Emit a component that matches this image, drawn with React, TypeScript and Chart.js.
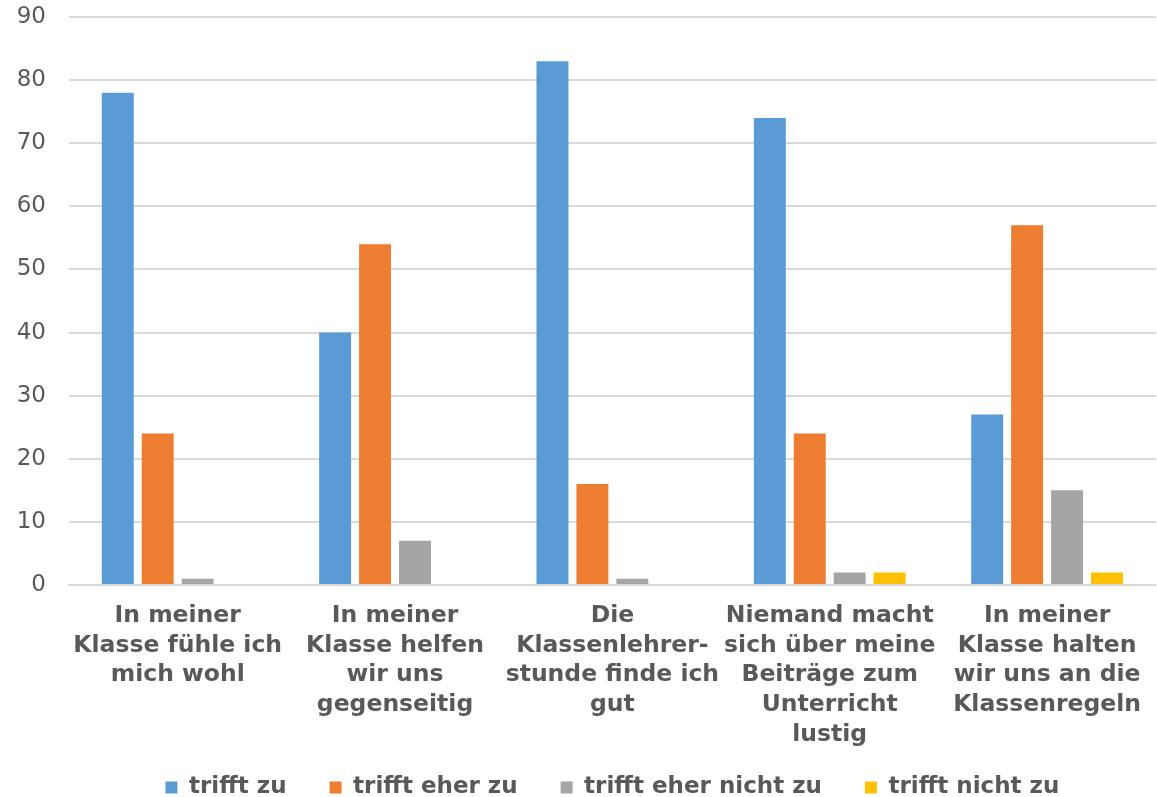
import React, { useEffect, useRef } from "react";
import { Chart, registerables } from "chart.js";

Chart.register(...registerables);

const categories: string[][] = [
  ["In meiner", "Klasse fühle ich", "mich wohl"],
  ["In meiner", "Klasse helfen", "wir uns", "gegenseitig"],
  ["Die", "Klassenlehrer-", "stunde finde ich", "gut"],
  ["Niemand macht", "sich über meine", "Beiträge zum", "Unterricht", "lustig"],
  ["In meiner", "Klasse halten", "wir uns an die", "Klassenregeln"],
];

const seriesNames = ["trifft zu", "trifft eher zu", "trifft eher nicht zu", "trifft nicht zu"];
const trifftZu = [78, 40, 83, 74, 27];
const trifftEherZu = [24, 54, 16, 24, 57];
const trifftEherNichtZu = [1, 7, 1, 2, 15];
const trifftNichtZu = [0, 0, 0, 2, 2];
const colors = ["#5b9bd5", "#ed7d31", "#a5a5a5", "#ffc000"];
const yTicks = { min: 0, max: 90, step: 10 };

const FONT = "'DejaVu Sans', Verdana, sans-serif";

// keep the multi-line category labels from being clipped at the axis box bottom
const unclipXLabels = {
  id: "unclipXLabels",
  afterLayout(chart: any) {
    const x = chart.scales.x;
    if (x) x.bottom = chart.height;
  },
};

export default function App() {
  const ref = useRef<HTMLCanvasElement | null>(null);
  useEffect(() => {
    if (!ref.current) return;
    const values = [trifftZu, trifftEherZu, trifftEherNichtZu, trifftNichtZu];
    const chart = new Chart(ref.current, {
      type: "bar",
      data: {
        labels: categories,
        datasets: values.map((v, i) => ({
          label: seriesNames[i],
          data: v,
          backgroundColor: colors[i],
          borderWidth: 0,
          categoryPercentage: 0.735,
          barPercentage: 0.8,
        })),
      },
      plugins: [unclipXLabels],
      options: {
        animation: false,
        responsive: true,
        maintainAspectRatio: false,
        layout: { padding: { top: 0, right: 0, left: 0, bottom: -12 } },
        plugins: {
          tooltip: { enabled: false },
          legend: {
            position: "bottom",
            fullSize: false,
            labels: {
              boxWidth: 12,
              boxHeight: 12,
              padding: 43,
              color: "#595959",
              font: { family: FONT, size: 23, weight: "bold" },
            },
          },
        },
        scales: {
          x: {
            afterFit: (scale: any) => {
              scale.height = 148;
            },
            grid: { display: false, drawTicks: false },
            border: { display: true, color: "#d9d9d9", width: 2 },
            ticks: {
              color: "#595959",
              padding: 16,
              maxRotation: 0,
              autoSkip: false,
              font: { family: FONT, size: 23.5, weight: "bold", lineHeight: 1.265 },
            },
          },
          y: {
            min: yTicks.min,
            max: yTicks.max,
            afterFit: (scale: any) => {
              scale.width = 69;
              scale.paddingTop = 17;
              scale.paddingBottom = 0;
            },
            grid: { color: "#d9d9d9", lineWidth: 2, drawTicks: false },
            border: { display: false },
            ticks: {
              stepSize: yTicks.step,
              color: "#595959",
              padding: 23,
              font: { family: FONT, size: 23 },
            },
          },
        },
      },
    });
    return () => chart.destroy();
  }, []);
  return (
    <div style={{ position: "fixed", left: 0, top: 0, width: 1157, height: 797, background: "#fff" }}>
      <canvas ref={ref} />
    </div>
  );
}
